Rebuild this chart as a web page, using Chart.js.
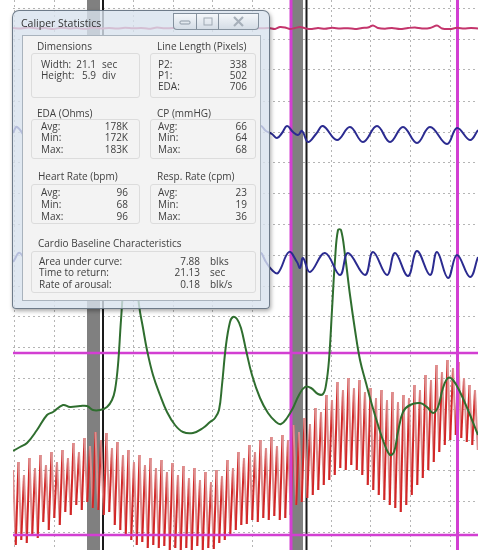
<!DOCTYPE html>
<html>
<head>
<meta charset="utf-8">
<script src="https://cdn.jsdelivr.net/npm/chart.js@4.4.1/dist/chart.umd.min.js"></script>
<style>
html,body{margin:0;padding:0;background:#fff;overflow:hidden;}
#wrap{position:relative;width:478px;height:550px;overflow:hidden;background:#fff;}
#c{position:absolute;left:0;top:0;}
#win{position:absolute;left:12px;top:10px;width:258px;height:299px;box-sizing:border-box;border:1px solid rgba(90,105,120,0.85);border-radius:7px 7px 4px 4px;background:rgba(216,226,238,0.8);box-shadow:1px 2px 4px rgba(0,0,0,0.35);}
#client{position:absolute;left:22px;top:35px;width:239px;height:266px;box-sizing:border-box;border:1px solid #a9b3bd;background:#f3f3f3;}
.gb{position:absolute;box-sizing:border-box;border:1px solid #dcdcdc;border-radius:3px;}
.t{position:absolute;font-family:"Open Sans",sans-serif;font-size:10px;line-height:12px;color:#404040;white-space:nowrap;}
.btn{position:absolute;top:13px;height:17px;box-sizing:border-box;border:1px solid rgba(100,115,130,0.75);background:linear-gradient(#f4f7fa,#d5dde6);}
</style>
</head>
<body>
<div id="wrap">
<canvas id="c" width="478" height="550"></canvas>

<div id="win"></div>
<div class="t" style="left:21px;top:17px;font-size:10.5px;color:#333;">Caliper Statistics</div>
<div class="btn" style="left:173px;width:24px;border-radius:0 0 0 4px;"><svg width="22" height="15"><rect x="6" y="7" width="10" height="3" rx="1" fill="none" stroke="#8d99a5" stroke-width="1"/></svg></div>
<div class="btn" style="left:196px;width:23px;"><svg width="21" height="15"><rect x="7" y="4" width="8" height="7" fill="none" stroke="#a0aab4" stroke-width="1"/></svg></div>
<div class="btn" style="left:218px;width:41px;border-radius:0 0 4px 0;"><svg width="39" height="15"><path d="M15 3 L24 12 M24 3 L15 12" stroke="#a7b0ba" stroke-width="2.2" fill="none"/></svg></div>
<div id="client"></div>

<div class="gb" style="left:31px;top:53px;width:109px;height:45px;"></div>
<div class="gb" style="left:150px;top:53px;width:106px;height:45px;"></div>
<div class="gb" style="left:31px;top:119px;width:109px;height:40px;"></div>
<div class="gb" style="left:150px;top:119px;width:106px;height:40px;"></div>
<div class="gb" style="left:31px;top:184px;width:109px;height:40px;"></div>
<div class="gb" style="left:150px;top:184px;width:106px;height:40px;"></div>
<div class="gb" style="left:31px;top:251px;width:225px;height:42px;"></div>

<div class="t" style="left:37px;top:40px;">Dimensions</div>
<div class="t" style="left:157px;top:40px;">Line Length (Pixels)</div>
<div class="t" style="left:41px;top:58px;">Width:</div>
<div class="t" style="right:382px;top:58px;">21.1</div>
<div class="t" style="left:102px;top:58px;">sec</div>
<div class="t" style="left:41px;top:69px;">Height:</div>
<div class="t" style="right:382px;top:69px;">5.9</div>
<div class="t" style="left:102px;top:69px;">div</div>
<div class="t" style="left:158px;top:58px;">P2:</div>
<div class="t" style="right:231px;top:58px;">338</div>
<div class="t" style="left:158px;top:69px;">P1:</div>
<div class="t" style="right:231px;top:69px;">502</div>
<div class="t" style="left:158px;top:80px;">EDA:</div>
<div class="t" style="right:231px;top:80px;">706</div>

<div class="t" style="left:37px;top:107px;">EDA (Ohms)</div>
<div class="t" style="left:157px;top:107px;">CP (mmHG)</div>
<div class="t" style="left:41px;top:120px;">Avg:</div>
<div class="t" style="right:350px;top:120px;">178K</div>
<div class="t" style="left:41px;top:131px;">Min:</div>
<div class="t" style="right:350px;top:131px;">172K</div>
<div class="t" style="left:41px;top:143px;">Max:</div>
<div class="t" style="right:350px;top:143px;">183K</div>
<div class="t" style="left:158px;top:120px;">Avg:</div>
<div class="t" style="right:231px;top:120px;">66</div>
<div class="t" style="left:158px;top:131px;">Min:</div>
<div class="t" style="right:231px;top:131px;">64</div>
<div class="t" style="left:158px;top:143px;">Max:</div>
<div class="t" style="right:231px;top:143px;">68</div>

<div class="t" style="left:38px;top:170px;">Heart Rate (bpm)</div>
<div class="t" style="left:157px;top:170px;">Resp. Rate (cpm)</div>
<div class="t" style="left:41px;top:186px;">Avg:</div>
<div class="t" style="right:350px;top:186px;">96</div>
<div class="t" style="left:41px;top:198px;">Min:</div>
<div class="t" style="right:350px;top:198px;">68</div>
<div class="t" style="left:41px;top:210px;">Max:</div>
<div class="t" style="right:350px;top:210px;">96</div>
<div class="t" style="left:158px;top:186px;">Avg:</div>
<div class="t" style="right:231px;top:186px;">23</div>
<div class="t" style="left:158px;top:198px;">Min:</div>
<div class="t" style="right:231px;top:198px;">19</div>
<div class="t" style="left:158px;top:210px;">Max:</div>
<div class="t" style="right:231px;top:210px;">36</div>

<div class="t" style="left:38px;top:237px;">Cardio Baseline Characteristics</div>
<div class="t" style="left:39px;top:255px;">Area under curve:</div>
<div class="t" style="right:278px;top:255px;">7.88</div>
<div class="t" style="left:210px;top:255px;">blks</div>
<div class="t" style="left:39px;top:266px;">Time to return:</div>
<div class="t" style="right:278px;top:266px;">21.13</div>
<div class="t" style="left:210px;top:266px;">sec</div>
<div class="t" style="left:39px;top:278px;">Rate of arousal:</div>
<div class="t" style="right:278px;top:278px;">0.18</div>
<div class="t" style="left:210px;top:278px;">blk/s</div>
</div>

<script>
// ---- axis / grid tick positions (chart units) ----
const xMin = 13, xMax = 478, yMin = 0, yMax = 550;
const gridX = [14, 54, 93, 133, 173, 212, 252, 291, 331, 370, 410, 450];
const gridY = [8, 39, 70, 101, 132, 162, 193, 224, 255, 286, 316, 347, 378, 409, 440, 470, 501, 532];

// ---- caliper / marker positions ----
const caliperBars = [93.5, 296.5];
const caliperEdges = [103, 306.5];
const eventMarks = [291, 457.5];
const baselineLevels = [353, 535];

// ---- upper trace (pink) ----
const pinkX = [13,21,29,37,45,53,61,69,77,85,93,101,109,117,125,133,141,149,157,165,173,181,189,197,205,213,221,229,237,245,253,261,269,275,280,285,290,295,300,306,312,318,325,332,340,348,355,362,368,373,378,385,392,400,408,415,422,430,437,442,450,457,464,471,478];
const pinkY = [28,28.5,27.5,28.5,28,29,27.8,28.4,28,28.8,27.6,28.4,28,28.6,27.8,28.3,28,28.7,27.6,28.3,28,28.5,27.7,28.4,28.1,28.6,27.8,28.3,28,28.5,28,28.3,28,29,27,27.5,29,28,27,28.5,29,28,28.8,27.8,28.5,28.2,29,28,27.5,25.5,28,28.7,28,29,28,27.5,28.5,28,25.5,28.5,29,27.8,28.5,28,28.5];

// ---- upper pneumo (blue) ----
const pneumo1X = [13,17,30,44,57,71,84,98,111,125,138,152,165,179,192,206,219,233,246,260,266,272,277,282,287,293,298,302,308,316,323,337,350,363,377,390,403,417,430,447,457,470,478];
const pneumo1Y = [133,127,141,126,141,127,140,126,141,127,141,126,140,127,141,126,140,127,141,126,131,134,138,133,126,132,135,131,142,134,126,140,127,142,126,142,127,143,127,144,128,140,130];

// ---- lower pneumo (blue) ----
const pneumo2X = [13,20,33,44,57,68,81,92,105,116,129,140,153,164,177,188,201,212,225,236,249,260,266,272,278,289,297,300,303,310,325,340,348,365,373,387,395,408,417,430,437,448,457,470,478];
const pneumo2Y = [262,253,275,253,275,252,275,253,275,252,275,253,275,252,275,253,275,252,275,253,275,253,262,270,273,252,262,268,258,272,253,275,253,275,252,275,253,276,251,275,252,278,255,277,257];

// ---- EDA (green) ----
const edaX = [13,20,27,37,47,53,63,70,80,87,93,100,107,112,115,118,121,125,130,135,139,143,147,153,160,167,175,183,193,203,210,215,219,222,226,230,233,237,241,246,252,260,268,276,281,287,293,299,305,311,318,323,326,329,332,335,338,341,345,350,355,360,366,372,378,384,390,394,398,403,410,420,427,433,438,443,448,453,460,468,478];
const edaY = [451,447,443,430,415,412,405,407,406,406,410,410,407,400,390,365,320,270,245,262,305,328,350,375,395,412,425,432,433,428,422,418,410,385,345,322,317,319,328,350,375,398,413,422,424,418,408,395,387,388,394,394,385,360,310,260,230,230,255,295,330,360,383,405,425,443,455,452,432,412,405,403,407,413,407,388,378,380,392,410,435];

// ---- cardio (red): one peak and one trough per beat ----
const cardioStart = 13, beatInterval = 5.5;
const cardioPeaks = [470,462,475,458,468,455,465,452,462,450,458,443,452,438,446,432,440,433,448,442,455,450,462,455,465,458,468,460,472,463,475,466,478,468,480,472,482,470,476,460,468,452,458,445,452,440,448,437,446,435,440,425,432,418,424,408,412,395,400,382,390,378,388,380,392,388,398,390,400,392,402,395,398,385,390,375,380,365,372,360,368,362,378,385,390];
const cardioTroughs = [545,540,543,535,538,522,530,518,525,512,515,505,510,502,508,510,515,512,525,530,535,540,545,542,548,545,548,546,550,548,550,548,550,546,550,548,549,543,540,535,530,525,524,520,522,518,520,516,520,518,515,505,502,498,495,490,485,480,475,468,470,465,470,475,485,490,495,500,505,508,512,505,495,485,478,470,462,452,445,440,435,438,442,445,450];

function xy(xs, ys) { return xs.map((x, i) => ({ x: x, y: ys[i] })); }
const cardioData = [];
cardioPeaks.forEach((p, i) => {
  const t = cardioStart + i * beatInterval;
  cardioData.push({ x: t, y: p });
  cardioData.push({ x: t + beatInterval / 2, y: cardioTroughs[i] });
});
const vline = x => [{ x: x, y: yMin }, { x: x, y: yMax }];
const hline = y => [{ x: xMin, y: y }, { x: xMax, y: y }];

const MAG = '#d23fd2';
const datasets = [];
let ord = 0;
datasets.push({ label: 'Pink', data: xy(pinkX, pinkY), borderColor: '#c4356c', borderWidth: 2, tension: 0.3, order: ord++ });
datasets.push({ label: 'Pneumo 1', data: xy(pneumo1X, pneumo1Y), borderColor: '#2b2b90', borderWidth: 2, tension: 0.4, order: ord++ });
datasets.push({ label: 'Pneumo 2', data: xy(pneumo2X, pneumo2Y), borderColor: '#2b2b90', borderWidth: 2, tension: 0.4, order: ord++ });
datasets.push({ label: 'EDA', data: xy(edaX, edaY), borderColor: '#2f6e2f', borderWidth: 2, tension: 0.4, order: ord++ });
baselineLevels.forEach(v => datasets.push({ label: 'base', data: hline(v), borderColor: MAG, borderWidth: 2.5, order: ord++ }));
eventMarks.forEach(v => datasets.push({ label: 'mark', data: vline(v), borderColor: MAG, borderWidth: 3, order: ord++ }));
datasets.push({ label: 'Cardio', data: cardioData, borderWidth: 2, tension: 0, borderColor: '#d42a2a',
  segment: { borderColor: c => (c.p1.parsed.y < c.p0.parsed.y ? '#d22626' : '#dc8f8f') }, order: ord++ });
caliperEdges.forEach(v => datasets.push({ label: 'edge', data: vline(v), borderColor: '#1a1a1a', borderWidth: 2, order: ord++ }));
caliperBars.forEach(v => datasets.push({ label: 'bar', data: vline(v), borderColor: '#808080', borderWidth: 13, order: ord++ }));

new Chart(document.getElementById('c'), {
  type: 'line',
  data: { datasets: datasets },
  options: {
    responsive: false, animation: false, events: [],
    layout: { padding: { left: 13, right: 0, top: 0, bottom: 0 } },
    plugins: { legend: { display: false }, tooltip: { enabled: false } },
    elements: { point: { radius: 0 }, line: { borderCapStyle: 'butt', borderJoinStyle: 'round' } },
    scales: {
      x: { type: 'linear', min: xMin, max: xMax,
        afterBuildTicks: s => { s.ticks = gridX.map(v => ({ value: v })); },
        ticks: { display: false }, grid: { color: '#b5b5b5', lineWidth: 1, drawTicks: false },
        border: { display: false, dash: [2, 3] } },
      y: { type: 'linear', min: yMin, max: yMax, reverse: true,
        afterBuildTicks: s => { s.ticks = gridY.map(v => ({ value: v })); },
        ticks: { display: false }, grid: { color: '#b5b5b5', lineWidth: 1, drawTicks: false },
        border: { display: false, dash: [2, 3] } }
    }
  }
});
</script>
</body>
</html>
